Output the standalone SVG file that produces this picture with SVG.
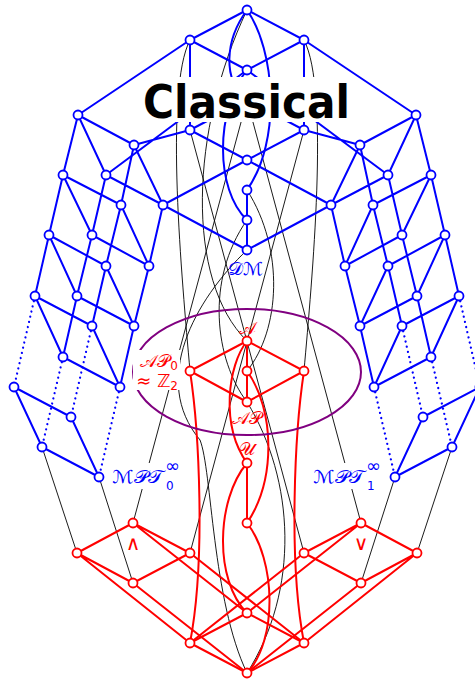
<svg xmlns="http://www.w3.org/2000/svg" width="475" height="682" viewBox="0 0 475 682">
<style>
.b{stroke:#0000ff;stroke-width:2;fill:none}
.r{stroke:#ff0000;stroke-width:2;fill:none}
.k{stroke:#000;stroke-width:0.9;fill:none}
.d{stroke:#0000ff;stroke-width:2.2;fill:none;stroke-dasharray:0.1 5.2;stroke-linecap:round}
.nb{fill:#fff;stroke:#0000ff;stroke-width:1.8}
.nr{fill:#fff;stroke:#ff0000;stroke-width:1.8}
.lr{fill:#ff0000;font-family:"DejaVu Sans","Noto Sans",serif;font-size:18px}
.lb{fill:#0000ff;font-family:"DejaVu Sans","Noto Sans",serif;font-size:18px}
.sub{font-size:12px}
</style>
<g id="connectors">
<g id="black">
<path class="k" d="M133,523 L247,100"/>
<path class="k" d="M361,523 L247,100"/>
<path class="k" d="M42,447 L77,553"/>
<path class="k" d="M99,477 L133,583"/>
<path class="k" d="M452,447 L417,553"/>
<path class="k" d="M395,477 L361,583"/>
<path class="k" d="M190,40 C164,90 182,280 190,371"/>
<path class="k" d="M304,40 C330,90 312,280 304,371"/>
<path class="k" d="M304,130 L190,553"/>
<path class="k" d="M190,130 L304,553"/>
<path class="k" d="M247,190 C285,250 280,330 247,371"/>
<path class="k" d="M247,220 C205,280 215,360 247,402"/>
<path class="k" d="M247,250 C195,300 150,380 200,440 C212,470 212,600 247,673"/>
<path class="k" d="M247,402 C295,480 300,590 247,673"/>
<path class="k" d="M247,10 C190,130 185,280 247,341"/>
</g>
<g id="blue-edges">
<path class="b" d="M247,10 L190,40 M247,10 L304,40 M190,40 L247,70 M304,40 L247,70 M190,40 L78,115 M304,40 L416,115 M190,40 L190,130 M304,40 L304,130 M247,70 L106,175 M247,70 L388,175 M247,100 L190,130 M247,100 L304,130 M190,130 L247,160 M304,130 L247,160 M190,130 L134,145 M304,130 L360,145 M247,160 L163,205 M247,160 L331,205 M247,190 L247,220 L247,250 M163,205 L247,250 M331,205 L247,250"/>
<path class="b" d="M247,10 C225,40 222,80 247,100"/>
<path class="b" d="M247,10 C275,50 282,140 247,190"/>
<path class="b" d="M247,70 C215,110 215,190 247,220"/>
<path class="b" d="M78,115 L134,145 M78,115 L106,175 M134,145 L163,205 M106,175 L163,205 M78,115 L63,175 M134,145 L121,205 M106,175 L92,235 M163,205 L149,266
M63,175 L121,205 M63,175 L92,235 M121,205 L149,266 M92,235 L149,266 M63,175 L49,235 M121,205 L106,266 M92,235 L77,296 M149,266 L134,326
M49,235 L106,266 M49,235 L77,296 M106,266 L134,326 M77,296 L134,326 M49,235 L35,296 M106,266 L92,326 M77,296 L63,357 M134,326 L120,387
M35,296 L92,326 M35,296 L63,357 M92,326 L120,387 M63,357 L120,387
M14,387 L71,417 M14,387 L42,447 M71,417 L99,477 M42,447 L99,477"/>
<path class="d" d="M35,296 L14,387 M92,326 L71,417 M63,357 L42,447 M120,387 L99,477"/>
<path class="b" d="M416,115 L360,145 M416,115 L388,175 M360,145 L331,205 M388,175 L331,205 M416,115 L431,175 M360,145 L373,205 M388,175 L402,235 M331,205 L345,266
M431,175 L373,205 M431,175 L402,235 M373,205 L345,266 M402,235 L345,266 M431,175 L445,235 M373,205 L388,266 M402,235 L417,296 M345,266 L360,326
M445,235 L388,266 M445,235 L417,296 M388,266 L360,326 M417,296 L360,326 M445,235 L459,296 M388,266 L402,326 M417,296 L431,357 M360,326 L374,387
M459,296 L402,326 M459,296 L431,357 M402,326 L374,387 M431,357 L374,387
M480,387 L423,417 M480,387 L452,447 M423,417 L395,477 M452,447 L395,477"/>
<path class="d" d="M459,296 L480,387 M402,326 L423,417 M431,357 L452,447 M374,387 L395,477"/>
</g>
<g id="red-edges">
<path class="r" d="M247,341 L190,371 M247,341 L304,371 M247,341 L247,371 L247,402 M190,371 L247,402 M304,371 L247,402 M247,463 L247,523"/>
<path class="r" d="M247,341 C228,365 220,425 247,463"/>
<path class="r" d="M247,371 C275,410 276,480 247,523"/>
<path class="r" d="M247,463 C216,500 214,580 247,613"/>
<path class="r" d="M247,523 C276,560 278,640 247,673"/>
<path class="r" d="M190,371 C199,430 206,560 190,643"/>
<path class="r" d="M304,371 C295,430 288,560 304,643"/>
<path class="r" d="M133,523 L77,553 M133,523 L190,553 M133,523 L247,613 M77,553 L133,583 M190,553 L133,583 M77,553 L190,643 M190,553 L304,643 M133,583 L247,673"/>
<path class="r" d="M361,523 L304,553 M361,523 L417,553 M361,523 L247,613 M304,553 L361,583 M417,553 L361,583 M417,553 L304,643 M304,553 L190,643 M361,583 L247,673"/>
<path class="r" d="M247,613 L190,643 M247,613 L304,643 M190,643 L247,673 M304,643 L247,673"/>
</g>
</g>
<ellipse cx="247" cy="372" rx="114" ry="63" fill="none" stroke="#800080" stroke-width="2"/>
<g id="classical-label">
<rect x="139" y="77" width="217" height="45" fill="#fff"/>
<text x="143" y="118" font-family="'DejaVu Sans',sans-serif" font-weight="bold" font-size="47" textLength="207" lengthAdjust="spacingAndGlyphs">Classical</text>
</g>
<g id="labels">
<rect x="133" y="350" width="47" height="40" fill="#fff"/>
<text class="lr" x="178" y="367" text-anchor="end">𝒜𝒫<tspan class="sub" dy="3">0</tspan></text>
<text class="lr" x="178" y="387" text-anchor="end">≈ ℤ<tspan class="sub" dy="3">2</tspan></text>
<text class="lr" x="247" y="334" text-anchor="middle">𝒜</text>
<text class="lr" x="247" y="424" text-anchor="middle">𝒜𝒫</text>
<text class="lr" x="247" y="455" text-anchor="middle">𝒰</text>
<text class="lb" x="228" y="275" textLength="35" lengthAdjust="spacingAndGlyphs">𝒟ℳ</text>
<rect x="109" y="463" width="75" height="26" fill="#fff"/>
<text class="lb" x="112" y="483" font-size="19" textLength="52" lengthAdjust="spacingAndGlyphs">ℳ𝒫𝒯</text>
<text class="lb sub" x="166" y="490">0</text>
<text class="lb" x="165" y="472" font-size="13">∞</text>
<rect x="310" y="463" width="75" height="26" fill="#fff"/>
<text class="lb" x="313" y="483" font-size="19" textLength="52" lengthAdjust="spacingAndGlyphs">ℳ𝒫𝒯</text>
<text class="lb sub" x="367" y="490">1</text>
<text class="lb" x="366" y="472" font-size="13">∞</text>
<text x="133" y="550" fill="#ff0000" font-family="'DejaVu Sans',sans-serif" font-size="20" text-anchor="middle">∧</text>
<text x="361" y="550" fill="#ff0000" font-family="'DejaVu Sans',sans-serif" font-size="20" text-anchor="middle">∨</text>
</g>
<g id="nodes">
<g id="n-top"><circle class="nb" cx="247" cy="10" r="4.5"/></g>
<g id="n-p0"><circle class="nb" cx="190" cy="40" r="4.5"/></g>
<g id="n-p1"><circle class="nb" cx="304" cy="40" r="4.5"/></g>
<g id="n-p"><circle class="nb" cx="247" cy="70" r="4.5"/></g>
<g id="n-m0"><circle class="nb" cx="190" cy="130" r="4.5"/></g>
<g id="n-m1"><circle class="nb" cx="304" cy="130" r="4.5"/></g>
<g id="n-mp"><circle class="nb" cx="247" cy="160" r="4.5"/></g>
<g id="n-d"><circle class="nb" cx="247" cy="190" r="4.5"/></g>
<g id="n-d1"><circle class="nb" cx="247" cy="220" r="4.5"/></g>
<g id="n-dm"><circle class="nb" cx="247" cy="250" r="4.5"/></g>
<g id="n-left">
<circle class="nb" cx="78" cy="115" r="4.5"/><circle class="nb" cx="134" cy="145" r="4.5"/><circle class="nb" cx="106" cy="175" r="4.5"/><circle class="nb" cx="163" cy="205" r="4.5"/>
<circle class="nb" cx="63" cy="175" r="4.5"/><circle class="nb" cx="121" cy="205" r="4.5"/><circle class="nb" cx="92" cy="235" r="4.5"/><circle class="nb" cx="149" cy="266" r="4.5"/>
<circle class="nb" cx="49" cy="235" r="4.5"/><circle class="nb" cx="106" cy="266" r="4.5"/><circle class="nb" cx="77" cy="296" r="4.5"/><circle class="nb" cx="134" cy="326" r="4.5"/>
<circle class="nb" cx="35" cy="296" r="4.5"/><circle class="nb" cx="92" cy="326" r="4.5"/><circle class="nb" cx="63" cy="357" r="4.5"/><circle class="nb" cx="120" cy="387" r="4.5"/>
<circle class="nb" cx="14" cy="387" r="4.5"/><circle class="nb" cx="71" cy="417" r="4.5"/><circle class="nb" cx="42" cy="447" r="4.5"/><circle class="nb" cx="99" cy="477" r="4.5"/>
</g>
<g id="n-right">
<circle class="nb" cx="416" cy="115" r="4.5"/><circle class="nb" cx="360" cy="145" r="4.5"/><circle class="nb" cx="388" cy="175" r="4.5"/><circle class="nb" cx="331" cy="205" r="4.5"/>
<circle class="nb" cx="431" cy="175" r="4.5"/><circle class="nb" cx="373" cy="205" r="4.5"/><circle class="nb" cx="402" cy="235" r="4.5"/><circle class="nb" cx="345" cy="266" r="4.5"/>
<circle class="nb" cx="445" cy="235" r="4.5"/><circle class="nb" cx="388" cy="266" r="4.5"/><circle class="nb" cx="417" cy="296" r="4.5"/><circle class="nb" cx="360" cy="326" r="4.5"/>
<circle class="nb" cx="459" cy="296" r="4.5"/><circle class="nb" cx="402" cy="326" r="4.5"/><circle class="nb" cx="431" cy="357" r="4.5"/><circle class="nb" cx="374" cy="387" r="4.5"/>
<circle class="nb" cx="480" cy="387" r="4.5"/><circle class="nb" cx="423" cy="417" r="4.5"/><circle class="nb" cx="452" cy="447" r="4.5"/><circle class="nb" cx="395" cy="477" r="4.5"/>
</g>
<g id="n-aff">
<circle class="nr" cx="247" cy="341" r="4.5"/><circle class="nr" cx="190" cy="371" r="4.5"/><circle class="nr" cx="247" cy="371" r="4.5"/><circle class="nr" cx="304" cy="371" r="4.5"/><circle class="nr" cx="247" cy="402" r="4.5"/>
</g>
<g id="n-unary"><circle class="nr" cx="247" cy="463" r="4.5"/><circle class="nr" cx="247" cy="523" r="4.5"/></g>
<g id="n-and">
<circle class="nr" cx="133" cy="523" r="4.5"/><circle class="nr" cx="77" cy="553" r="4.5"/><circle class="nr" cx="190" cy="553" r="4.5"/><circle class="nr" cx="133" cy="583" r="4.5"/>
</g>
<g id="n-or">
<circle class="nr" cx="361" cy="523" r="4.5"/><circle class="nr" cx="304" cy="553" r="4.5"/><circle class="nr" cx="417" cy="553" r="4.5"/><circle class="nr" cx="361" cy="583" r="4.5"/>
</g>
<g id="n-bottom">
<circle class="nr" cx="247" cy="613" r="4.5"/><circle class="nr" cx="190" cy="643" r="4.5"/><circle class="nr" cx="304" cy="643" r="4.5"/><circle class="nr" cx="247" cy="673" r="4.5"/>
</g>
</g>
</svg>
